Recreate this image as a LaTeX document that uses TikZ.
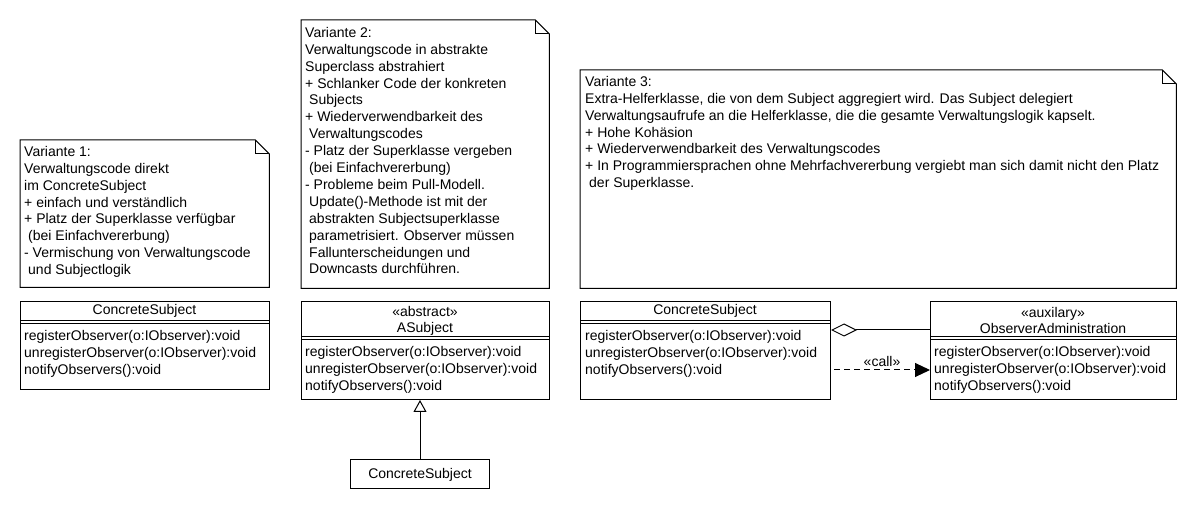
\documentclass[tikz,border=0pt]{standalone}
\usepackage{fontspec}
\setmainfont{Liberation Sans}
\usetikzlibrary{arrows.meta}
\newcommand\drawnote[1]{%
  \draw[line width=1pt] (#1.north west) -- ([xshift=-14pt]#1.north east) -- ([yshift=-14pt]#1.north east) -- (#1.south east) -- (#1.south west) -- cycle;
  \draw[line width=1pt] ([xshift=-14pt]#1.north east) -- ([xshift=-14pt,yshift=-14pt]#1.north east) -- ([yshift=-14pt]#1.north east);}
\newcommand\sep[2]{%
  \draw[line width=1pt] ([yshift=-#2pt]#1.north west) -- ([yshift=-#2pt]#1.north east);
  \draw[line width=1pt] ([yshift=-#2pt-3pt]#1.north west) -- ([yshift=-#2pt-3pt]#1.north east);}
\begin{document}
\begin{tikzpicture}[x=1pt,y=-1pt,
  txt/.style={font=\fontsize{14}{16.9}\selectfont, inner sep=0pt, align=left, anchor=north west},
  ctxt/.style={font=\fontsize{14}{16}\selectfont, inner sep=0pt, align=center},
  frame/.style={inner sep=0pt, anchor=north west},
  cls/.style={draw, line width=1pt, inner sep=0pt, anchor=north west}]
\useasboundingbox (0,0) rectangle (1200,510);
\fill[white] (0,0) rectangle (1200,510);

% ---------- Variante 1 ----------
\node[frame, minimum width=249pt, minimum height=147pt] (n1) at (20,140) {};
\drawnote{n1}
\node[txt] (t1) at (24,146) {Variante 1:\\Verwaltungscode direkt\\im ConcreteSubject\\+ einfach und verständlich\\+ Platz der Superklasse verfügbar\\\hspace*{4pt}(bei Einfachvererbung)\\- Vermischung von Verwaltungscode\\\hspace*{4pt}und Subjectlogik};

\node[cls, minimum width=249pt, minimum height=88pt] (c1) at (20,301) {};
\node[ctxt] (c1n) at (144.5,311) {ConcreteSubject};
\sep{c1}{20}
\node[txt] (c1o) at (24,330) {registerObserver(o:IObserver):void\\unregisterObserver(o:IObserver):void\\notifyObservers():void};

% ---------- Variante 2 ----------
\node[frame, minimum width=248pt, minimum height=268pt] (n2) at (301,20) {};
\drawnote{n2}
\node[txt] (t2) at (305,27) {Variante 2:\\Verwaltungscode in abstrakte\\Superclass abstrahiert\\+ Schlanker Code der konkreten\\\hspace*{4pt}Subjects\\+ Wiederverwendbarkeit des\\\hspace*{4pt}Verwaltungscodes\\- Platz der Superklasse vergeben\\\hspace*{4pt}(bei Einfachvererbung)\\- Probleme beim Pull-Modell.\\\hspace*{4pt}Update()-Methode ist mit der\\\hspace*{4pt}abstrakten Subjectsuperklasse\\\hspace*{4pt}parametrisiert. Observer müssen\\\hspace*{4pt}Fallunterscheidungen und\\\hspace*{4pt}Downcasts durchführen.};

\node[cls, minimum width=248pt, minimum height=98pt] (as) at (301,301) {};
\node[ctxt] (asn) at (425,320.5) {«abstract»\\ASubject};
\sep{as}{36}
\node[txt] (aso) at (305,346) {registerObserver(o:IObserver):void\\unregisterObserver(o:IObserver):void\\notifyObservers():void};

\node[draw, line width=1pt, minimum width=139pt, minimum height=29pt, inner sep=0pt, font=\fontsize{14}{16}\selectfont] (cs2) at (420,474.5) {ConcreteSubject};
\draw[line width=1pt, -{Triangle[open, length=12pt, width=13pt, line width=1pt]}] (cs2.north) -- (cs2.north |- as.south);

% ---------- Variante 3 ----------
\node[frame, minimum width=596pt, minimum height=218pt] (n3) at (580,70) {};
\drawnote{n3}
\node[txt] (t3) at (585,76) {Variante 3:\\Extra-Helferklasse, die von dem Subject aggregiert wird. Das Subject delegiert\\Verwaltungsaufrufe an die Helferklasse, die die gesamte Verwaltungslogik kapselt.\\+ Hohe Kohäsion\\+ Wiederverwendbarkeit des Verwaltungscodes\\+ In Programmiersprachen ohne Mehrfachvererbung vergiebt man sich damit nicht den Platz\\\hspace*{4pt}der Superklasse.};

\node[cls, minimum width=250pt, minimum height=98pt] (cs3) at (580,301) {};
\node[ctxt] (cs3n) at (705,311) {ConcreteSubject};
\sep{cs3}{20}
\node[txt] (cs3o) at (585,330) {registerObserver(o:IObserver):void\\unregisterObserver(o:IObserver):void\\notifyObservers():void};

\node[cls, minimum width=246pt, minimum height=98pt] (oa) at (930,301) {};
\node[ctxt] (oan) at (1053,320.5) {«auxilary»\\ObserverAdministration};
\sep{oa}{36}
\node[txt] (oao) at (934,346) {registerObserver(o:IObserver):void\\unregisterObserver(o:IObserver):void\\notifyObservers():void};

\coordinate (ag) at (0,330);
\coordinate (cl) at (0,370);
\draw[line width=1pt, {Diamond[open, length=26pt, width=13pt, line width=1pt]}-] (cs3.east |- ag) -- (oa.west |- ag);
\draw[line width=1pt, dash pattern=on 6pt off 4pt, -{Triangle[length=15pt, width=14pt]}] ([xshift=3pt]cs3.east |- cl) -- node[above=3pt, ctxt] (call) {«call»} (oa.west |- cl);
\end{tikzpicture}
\end{document}
